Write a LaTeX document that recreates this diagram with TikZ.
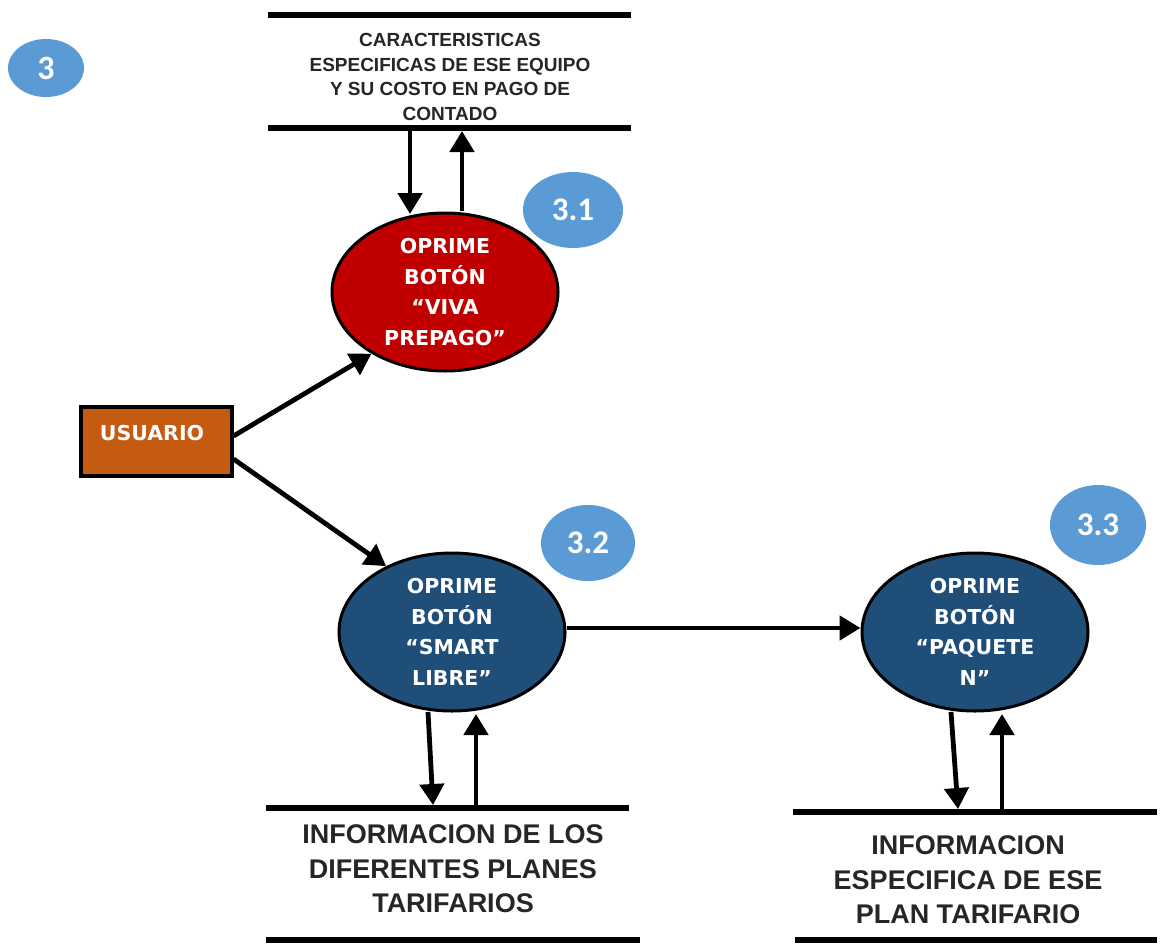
\documentclass[tikz,border=0pt]{standalone}
\usepackage{fontspec}
\setmainfont{Liberation Sans}
\newfontfamily\procfont{DejaVu Sans}
\newfontfamily\badgefont{Carlito}
\usetikzlibrary{shapes.geometric,arrows.meta}
\definecolor{badgeblue}{HTML}{5B9BD5}
\definecolor{procred}{HTML}{C00000}
\definecolor{procblue}{HTML}{1F4E79}
\definecolor{entorange}{HTML}{C55A11}
\tikzset{
  proc/.style={ellipse, draw=black, line width=3pt, inner sep=0pt,
    minimum width=226pt, minimum height=158pt, text=white, align=center,
    font=\procfont\bfseries\fontsize{20.5}{30.5}\selectfont},
  badge/.style={ellipse, fill=badgeblue, inner sep=0pt, text=white,
    font=\badgefont\bfseries\fontsize{33}{33}\selectfont},
  storetext/.style={align=center, inner sep=0pt, text=black!85,
    font=\bfseries\fontsize{19}{24.5}\selectfont},
  storetextbig/.style={align=center, inner sep=0pt, text=black!85,
    font=\bfseries\fontsize{27}{34.5}\selectfont},
  storeline/.style={line width=6.5pt},
  flow/.style={line width=4.8pt, -{Triangle[length=21pt,width=24pt]}},
}
\begin{document}
\begin{tikzpicture}[x=1pt,y=-1pt]
\useasboundingbox[fill=white] (0,0) rectangle (1161,943);

% diagram number
\node[badge, minimum width=76pt, minimum height=58pt] (n3) at (46,68)
  {\fontsize{34}{34}\selectfont 3};

% data store: equipment characteristics
\node[storetext] (dsEquipo) at (450,77)
  {CARACTERISTICAS\\ESPECIFICAS DE ESE EQUIPO\\Y SU COSTO EN PAGO DE\\CONTADO};
\draw[storeline] (268,15) -- (631,15);
\draw[storeline] (268,128) -- (631,128);

% external entity
\node[draw=black, line width=4pt, fill=entorange, minimum width=151pt,
  minimum height=69pt, inner sep=0pt] (usr) at (156,441) {};
\node[text=white, font=\procfont\bfseries\fontsize{20.5}{20.5}\selectfont]
  (usrlbl) at (152,433) {USUARIO};

% processes
\node[proc, fill=procred] (p31) at (445,292)
  {OPRIME\\BOTÓN\\“VIVA\\PREPAGO”};
\node[badge, minimum width=100pt, minimum height=76pt] (b31) at (573,210) {3.1};

\node[proc, fill=procblue] (p32) at (452,632)
  {OPRIME\\BOTÓN\\“SMART\\LIBRE”};
\node[badge, minimum width=94pt, minimum height=76pt] (b32) at (588,543) {3.2};

\node[proc, fill=procblue] (p33) at (975,632)
  {OPRIME\\BOTÓN\\“PAQUETE\\N”};
\node[badge, minimum width=96pt, minimum height=80pt] (b33) at (1098,525) {3.3};

% data store: tariff plans
\node[storetextbig] (dsPlanes) at (453,869)
  {INFORMACION DE LOS\\DIFERENTES PLANES\\TARIFARIOS};
\draw[storeline] (266,808) -- (629,808);
\draw[storeline] (266,940) -- (640,940);

% data store: specific plan
\node[storetextbig] (dsPlan) at (968,880)
  {INFORMACION\\ESPECIFICA DE ESE\\PLAN TARIFARIO};
\draw[storeline] (793,812) -- (1157,812);
\draw[storeline] (795,940) -- (1157,940);

% anchor points on the store lines and on the process borders
\coordinate (eqIn)   at (410,131);
\coordinate (eqOut)  at (462,131);
\coordinate (p31in)  at (410,214);
\coordinate (p31out) at (462,211);
\coordinate (plIn)   at (433,805);
\coordinate (plOut)  at (476,805);
\coordinate (spIn)   at (958,809);
\coordinate (spOut)  at (1002,809);

% flows
\draw[flow] (eqIn) -- (p31in);
\draw[flow] (p31out) -- (eqOut);
\draw[flow] (usr.east |- 0,436) -- (p31.220);
\draw[flow] (usr.east |- 0,459) -- (p32.135);
\draw[flow] (p32.east |- 0,628) -- (p33.west |- 0,628);
\draw[flow] (428,712) -- (plIn);
\draw[flow] (plOut) -- (476,714);
\draw[flow] (951,712) -- (spIn);
\draw[flow] (spOut) -- (1002,714);
\end{tikzpicture}
\end{document}
